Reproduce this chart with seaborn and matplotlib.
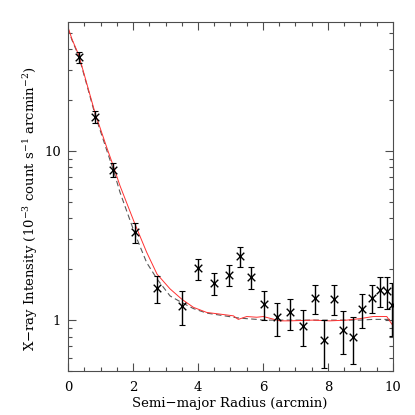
import numpy as np
import pandas as pd
import matplotlib
matplotlib.use("Agg")
import matplotlib.pyplot as plt
import seaborn as sns
from matplotlib.ticker import MultipleLocator, LogLocator, FixedLocator, FixedFormatter, NullFormatter

# observed surface brightness profile
radius = [0.33, 0.84, 1.39, 2.06, 2.74, 3.52, 4.01, 4.49, 4.94, 5.30,
          5.64, 6.03, 6.43, 6.84, 7.23, 7.59, 7.87, 8.18, 8.46, 8.77,
          9.06, 9.35, 9.61, 9.82, 9.96]
intensity = [35.8, 16.0, 7.75, 3.30, 1.55, 1.21, 2.02, 1.66, 1.86, 2.39,
             1.80, 1.24, 1.04, 1.11, 0.92, 1.35, 0.76, 1.34, 0.88, 0.80,
             1.16, 1.36, 1.50, 1.49, 1.23]
error = [2.7, 1.35, 0.7, 0.45, 0.28, 0.27, 0.29, 0.25, 0.27, 0.33,
         0.27, 0.24, 0.23, 0.23, 0.22, 0.265, 0.24, 0.265, 0.25, 0.25,
         0.26, 0.26, 0.31, 0.32, 0.42]

# model curves
model_r = [0.0, 0.12, 0.33, 0.6, 0.84, 1.2, 1.39, 1.6, 2.06, 2.42, 2.74,
           3.14, 3.5, 3.86, 4.27, 4.68, 5.09, 5.24, 5.5, 5.81, 6.01,
           6.52, 6.83, 7.55, 8.06, 8.58, 8.98, 9.39, 9.81, 9.96, 10.0]
model_red = [54.0, 46.0, 37.0, 24.2, 16.6, 10.4, 8.2, 6.23, 3.70, 2.52, 1.87,
             1.53, 1.33, 1.19, 1.11, 1.085, 1.06, 1.01, 1.05, 1.04, 1.05,
             0.99, 0.99, 1.0, 0.99, 1.0, 1.02, 1.05, 1.05, 0.95, 0.93]
model_dash = [53.0, 45.5, 36.5, 23.8, 16.2, 10.0, 7.8, 5.70, 3.23, 2.19, 1.75,
              1.39, 1.27, 1.17, 1.10, 1.07, 1.04, 1.03, 1.02, 1.01, 1.0,
              1.0, 1.0, 1.0, 1.0, 1.0, 1.0, 1.01, 1.01, 1.01, 1.01]

sns.set_style("ticks")
plt.rcParams["font.family"] = ["DejaVu Serif"]
plt.rcParams["mathtext.fontset"] = "dejavuserif"
plt.rcParams["axes.unicode_minus"] = True
plt.rcParams["text.color"] = "black"
plt.rcParams["axes.labelcolor"] = "black"
plt.rcParams["xtick.labelcolor"] = "black"
plt.rcParams["ytick.labelcolor"] = "black"

obs = pd.DataFrame({"r": radius, "I": intensity, "err": error})
mod = pd.DataFrame({"r": model_r, "red": model_red, "dash": model_dash})

fig = plt.figure(figsize=(4.15, 4.15), dpi=100)
ax = fig.add_axes([0.1639, 0.106, 0.783, 0.841])

sns.lineplot(data=mod, x="r", y="dash", ax=ax, color="0.35", lw=0.8,
             linestyle=(0, (5, 3)), estimator=None, sort=False)
sns.lineplot(data=mod, x="r", y="red", ax=ax, color="#ff3030", lw=0.7,
             estimator=None, sort=False)
ax.errorbar(obs["r"], obs["I"], yerr=obs["err"], fmt="none", ecolor="black",
            elinewidth=1.0, capsize=2.5, capthick=0.8)
sns.scatterplot(data=obs, x="r", y="I", ax=ax, marker="x", color="black",
                s=30, linewidth=1.0, zorder=5)

ax.set_yscale("log")
ax.set_xlim(0, 10)
ax.set_ylim(0.5, 58)

ax.xaxis.set_major_locator(MultipleLocator(2))
ax.xaxis.set_minor_locator(MultipleLocator(0.5))
ax.yaxis.set_major_locator(FixedLocator([1, 10]))
ax.yaxis.set_major_formatter(FixedFormatter(["1", "10"]))
ax.yaxis.set_minor_locator(LogLocator(base=10, subs=np.arange(2, 10)))
ax.yaxis.set_minor_formatter(NullFormatter())

ax.tick_params(which="both", direction="in", top=True, right=True,
               color="0.3", labelsize=9.5, labelcolor="black")
ax.tick_params(axis="x", pad=7)
ax.tick_params(axis="y", pad=5)
ax.tick_params(which="major", length=6, width=0.8)
ax.tick_params(which="minor", length=3, width=0.8)
for s in ax.spines.values():
    s.set_color("0.3")
    s.set_linewidth(0.8)

ax.set_xlabel("Semi\u2212major Radius (arcmin)", fontsize=9.5)
ax.set_ylabel("X\u2212ray Intensity (10$^{-3}$ count s$^{-1}$ arcmin$^{-2}$)",
              fontsize=9.5)
ax.xaxis.set_label_coords(0.498, -0.0745)
ax.yaxis.set_label_coords(-0.086, 0.464)

fig.savefig("out.png", dpi=100)
